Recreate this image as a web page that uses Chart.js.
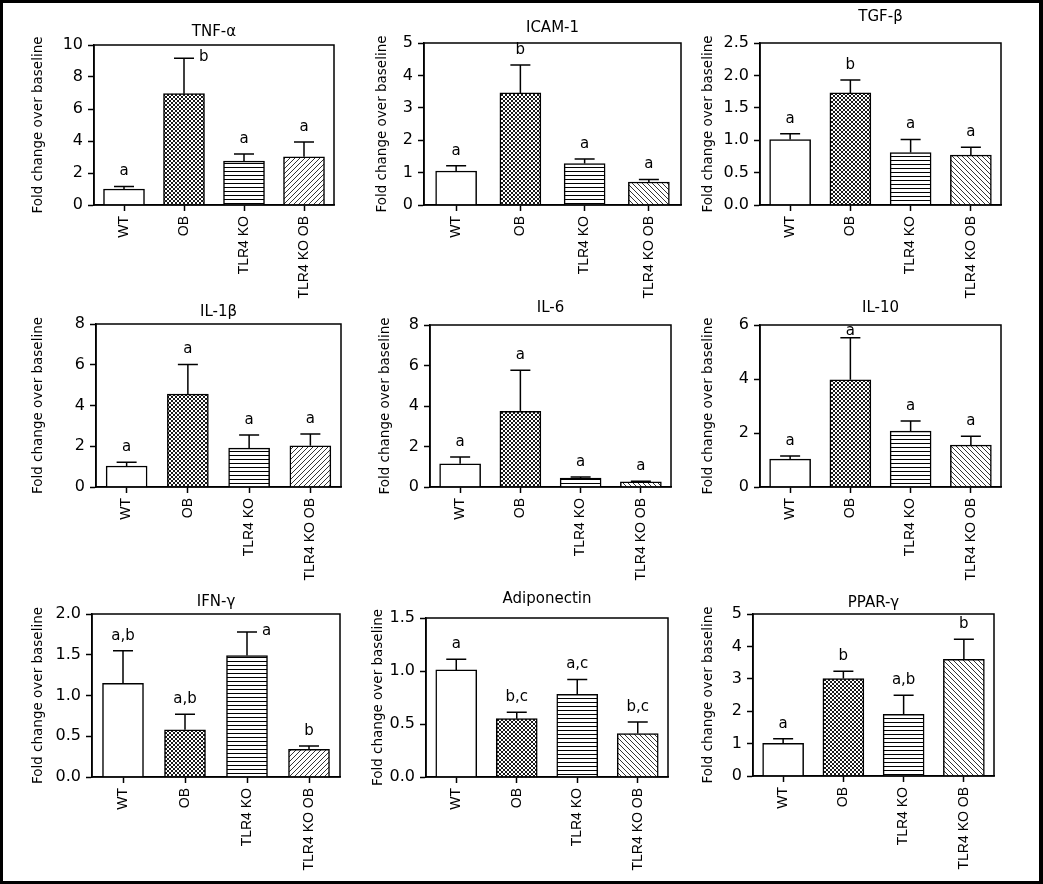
<!DOCTYPE html>
<html>
<head>
<meta charset="utf-8">
<script src="https://cdn.jsdelivr.net/npm/chart.js@4/dist/chart.umd.min.js"></script>
<style>
html,body{margin:0;padding:0;background:#fff;overflow:hidden;width:1043px;height:884px;}
#frame{position:absolute;left:0;top:0;width:1043px;height:884px;box-sizing:border-box;border:3px solid #000;border-right-width:4px;pointer-events:none;}
canvas{position:absolute;}
</style>
</head>
<body>
<div id="frame"></div>
<script>
// ---------------- DATA ----------------
const groups = ['WT', 'OB', 'TLR4 KO', 'TLR4 KO OB'];

const tnfMean = [1.00, 6.96, 2.74, 3.01];
const tnfSem = [0.16, 2.21, 0.44, 0.92];
const tnfLetters = ['a', 'b', 'a', 'a'];
const tnfTicks = [0, 2, 4, 6, 8, 10];

const icamMean = [1.05, 3.46, 1.28, 0.71];
const icamSem = [0.16, 0.86, 0.14, 0.08];
const icamLetters = ['a', 'b', 'a', 'a'];
const icamTicks = [0, 1, 2, 3, 4, 5];

const tgfMean = [1.01, 1.73, 0.81, 0.77];
const tgfSem = [0.09, 0.20, 0.20, 0.12];
const tgfLetters = ['a', 'b', 'a', 'a'];
const tgfTicks = [0, 0.5, 1.0, 1.5, 2.0, 2.5];

const il1bMean = [1.03, 4.56, 1.91, 2.02];
const il1bSem = [0.19, 1.45, 0.64, 0.58];
const il1bLetters = ['a', 'a', 'a', 'a'];
const il1bTicks = [0, 2, 4, 6, 8];

const il6Mean = [1.15, 3.74, 0.44, 0.25];
const il6Sem = [0.33, 2.02, 0.05, 0.03];
const il6Letters = ['a', 'a', 'a', 'a'];
const il6Ticks = [0, 2, 4, 6, 8];

const il10Mean = [1.03, 3.97, 2.07, 1.55];
const il10Sem = [0.12, 1.56, 0.37, 0.33];
const il10Letters = ['a', 'a', 'a', 'a'];
const il10Ticks = [0, 2, 4, 6];

const ifnMean = [1.15, 0.58, 1.49, 0.34];
const ifnSem = [0.40, 0.19, 0.29, 0.04];
const ifnLetters = ['a,b', 'a,b', 'a', 'b'];
const ifnTicks = [0, 0.5, 1.0, 1.5, 2.0];

const adipoMean = [1.01, 0.55, 0.78, 0.41];
const adipoSem = [0.10, 0.06, 0.14, 0.11];
const adipoLetters = ['a', 'b,c', 'a,c', 'b,c'];
const adipoTicks = [0, 0.5, 1.0, 1.5];

const pparMean = [1.01, 3.01, 1.90, 3.60];
const pparSem = [0.14, 0.22, 0.59, 0.62];
const pparLetters = ['a', 'b', 'a,b', 'b'];
const pparTicks = [0, 1, 2, 3, 4, 5];

const yTitle = 'Fold change over baseline';

// ---------------- LAYOUT (panel boxes in page pixels) ----------------
const panels = [
  {title:'TNF-α',       mean:tnfMean,   sem:tnfSem,   letters:tnfLetters,   ticks:tnfTicks,   dec:0, slash:'/',  box:[94,45,334,205],   titleGap:4,  yTitleX:38,  right:[1]},
  {title:'ICAM-1',      mean:icamMean,  sem:icamSem,  letters:icamLetters,  ticks:icamTicks,  dec:0, slash:'\\', box:[424,43,681,205],  titleGap:6,  yTitleX:382, right:[]},
  {title:'TGF-β',       mean:tgfMean,   sem:tgfSem,   letters:tgfLetters,   ticks:tgfTicks,   dec:1, slash:'\\', box:[760,43,1001,205], titleGap:17, yTitleX:708, right:[]},
  {title:'IL-1β',       mean:il1bMean,  sem:il1bSem,  letters:il1bLetters,  ticks:il1bTicks,  dec:0, slash:'/',  box:[96,324,341,487],  titleGap:3,  yTitleX:38,  right:[]},
  {title:'IL-6',        mean:il6Mean,   sem:il6Sem,   letters:il6Letters,   ticks:il6Ticks,   dec:0, slash:'\\', box:[430,325,671,487], titleGap:8,  yTitleX:385, right:[]},
  {title:'IL-10',       mean:il10Mean,  sem:il10Sem,  letters:il10Letters,  ticks:il10Ticks,  dec:0, slash:'\\', box:[760,325,1001,487],titleGap:8,  yTitleX:708, right:[]},
  {title:'IFN-γ',       mean:ifnMean,   sem:ifnSem,   letters:ifnLetters,   ticks:ifnTicks,   dec:1, slash:'/',  box:[92,614,340,777],  titleGap:3,  yTitleX:38,  right:[2]},
  {title:'Adiponectin', mean:adipoMean, sem:adipoSem, letters:adipoLetters, ticks:adipoTicks, dec:1, slash:'\\', box:[426,618,668,777], titleGap:10, yTitleX:378, right:[]},
  {title:'PPAR-γ',      mean:pparMean,  sem:pparSem,  letters:pparLetters,  ticks:pparTicks,  dec:0, slash:'\\', box:[753,614,994,776], titleGap:2,  yTitleX:708, right:[]}
];

// ---------------- PATTERNS ----------------
function tile(w, h, draw) {
  const c = document.createElement('canvas');
  c.width = w; c.height = h;
  const g = c.getContext('2d');
  g.fillStyle = '#fff'; g.fillRect(0, 0, w, h);
  g.strokeStyle = '#000'; g.fillStyle = '#000';
  draw(g, w, h);
  return g.createPattern(c, 'repeat');
}
const patCross = tile(4, 4, (g) => {
  g.lineWidth = 0.9;
  g.beginPath();
  g.moveTo(-1, -1); g.lineTo(5, 5);
  g.moveTo(-1, 3); g.lineTo(1, 5);
  g.moveTo(3, -1); g.lineTo(5, 1);
  g.moveTo(5, -1); g.lineTo(-1, 5);
  g.moveTo(1, -1); g.lineTo(-1, 1);
  g.moveTo(5, 3); g.lineTo(3, 5);
  g.stroke();
});
const patHoriz = tile(4, 4, (g, w) => { g.fillRect(0, 0, w, 1); });
const patSlash = tile(5, 5, (g) => {
  g.lineWidth = 0.8;
  g.beginPath();
  g.moveTo(-1, 6); g.lineTo(6, -1);
  g.moveTo(-1, 1); g.lineTo(1, -1);
  g.moveTo(4, 6); g.lineTo(6, 4);
  g.stroke();
});
const patBack = tile(5, 5, (g) => {
  g.lineWidth = 0.8;
  g.beginPath();
  g.moveTo(-1, -1); g.lineTo(6, 6);
  g.moveTo(-1, 4); g.lineTo(1, 6);
  g.moveTo(4, -1); g.lineTo(6, 1);
  g.stroke();
});

// ---------------- PLUGINS ----------------
const framePlugin = {
  id: 'plotFrame',
  afterDraw(chart) {
    const {ctx, chartArea: a} = chart;
    ctx.save();
    ctx.strokeStyle = '#000';
    ctx.lineWidth = 1.5;
    ctx.strokeRect(a.left, a.top, a.right - a.left, a.bottom - a.top);
    ctx.restore();
  }
};

const errorPlugin = {
  id: 'errLetters',
  afterDatasetsDraw(chart, args, opts) {
    const {ctx, chartArea} = chart;
    const meta = chart.getDatasetMeta(0);
    const ys = chart.scales.y;
    ctx.save();
    ctx.strokeStyle = '#000';
    ctx.fillStyle = '#000';
    ctx.lineWidth = 1.5;
    ctx.font = '15px "DejaVu Sans", Verdana, sans-serif';
    meta.data.forEach((bar, i) => {
      const m = opts.mean[i];
      const top = ys.getPixelForValue(m);
      const tip = ys.getPixelForValue(m + opts.sem[i]);
      const cap = 10;
      ctx.beginPath();
      ctx.moveTo(bar.x, top);
      ctx.lineTo(bar.x, tip);
      ctx.moveTo(bar.x - cap, tip);
      ctx.lineTo(bar.x + cap, tip);
      ctx.stroke();
      const txt = opts.letters[i];
      if (opts.right.includes(i)) {
        ctx.textAlign = 'left';
        ctx.textBaseline = 'middle';
        ctx.fillText(txt, bar.x + cap + 5, tip - 1);
      } else {
        const cy = Math.max(tip - 15, chartArea.top + 6);
        ctx.textAlign = 'center';
        ctx.textBaseline = 'middle';
        ctx.fillText(txt, bar.x, cy);
      }
    });
    ctx.restore();
  }
};

// ---------------- BUILD ----------------
const YW = 70, RP = 4, XH = 100, TPT = 4, TFS = 15, TLH = TFS * 1.2;
const YTFS = 13.5;

panels.forEach((p) => {
  const [L, T, R, B] = p.box;
  const T0 = TPT + TLH + p.titleGap;
  const cv = document.createElement('canvas');
  const W = YW + (R - L) + RP;
  const H = Math.round(T0 + (B - T) + XH);
  cv.width = W; cv.height = H;
  cv.style.width = W + 'px'; cv.style.height = H + 'px';
  cv.style.left = (L - YW) + 'px';
  cv.style.top = (T - T0) + 'px';
  document.body.appendChild(cv);

  const fills = ['#ffffff', patCross, patHoriz, p.slash === '/' ? patSlash : patBack];
  const ytPad = p.yTitleX - (L - YW) - YTFS * 1.2 / 2;
  const ymax = p.ticks[p.ticks.length - 1];

  new Chart(cv, {
    type: 'bar',
    data: {
      labels: groups,
      datasets: [{
        data: p.mean,
        backgroundColor: fills,
        borderColor: '#000',
        borderWidth: 1.5,
        barThickness: 41,
        borderSkipped: 'start'
      }]
    },
    options: {
      responsive: false,
      animation: false,
      devicePixelRatio: 1,
      layout: {padding: {left: 0, right: RP, top: 0, bottom: 0}},
      plugins: {
        legend: {display: false},
        tooltip: {enabled: false},
        title: {
          display: true,
          text: p.title,
          fullSize: false,
          color: '#000',
          font: {family: '"DejaVu Sans", Verdana, sans-serif', size: TFS, weight: 'normal', lineHeight: 1.2},
          padding: {top: TPT, bottom: p.titleGap}
        },
        errLetters: {mean: p.mean, sem: p.sem, letters: p.letters, right: p.right}
      },
      scales: {
        x: {
          type: 'category',
          offset: true,
          grid: {display: true, drawOnChartArea: false, drawTicks: true, tickLength: 6, tickWidth: 1.5, tickColor: '#000', offset: false},
          border: {display: true, color: '#000', width: 1.5},
          ticks: {
            color: '#000',
            autoSkip: false,
            maxRotation: 90,
            minRotation: 90,
            padding: 5,
            font: {family: '"Liberation Sans", Arial, sans-serif', size: 14}
          },
          afterFit(s) { s.height = XH; }
        },
        y: {
          min: 0,
          max: ymax,
          grid: {display: true, drawOnChartArea: false, drawTicks: true, tickLength: 6, tickWidth: 1.5, tickColor: '#000'},
          border: {display: true, color: '#000', width: 1.5},
          afterBuildTicks(s) { s.ticks = p.ticks.map(v => ({value: v})); },
          ticks: {
            color: '#000',
            padding: 5,
            font: {family: '"DejaVu Sans", Verdana, sans-serif', size: 16},
            callback: (v) => Number(v).toFixed(p.dec)
          },
          title: {
            display: true,
            text: yTitle,
            color: '#000',
            font: {family: '"DejaVu Sans", Verdana, sans-serif', size: YTFS, lineHeight: 1.2},
            padding: {top: ytPad, bottom: 0}
          },
          afterFit(s) { s.width = YW; }
        }
      }
    },
    plugins: [framePlugin, errorPlugin]
  });
});
</script>
</body>
</html>
